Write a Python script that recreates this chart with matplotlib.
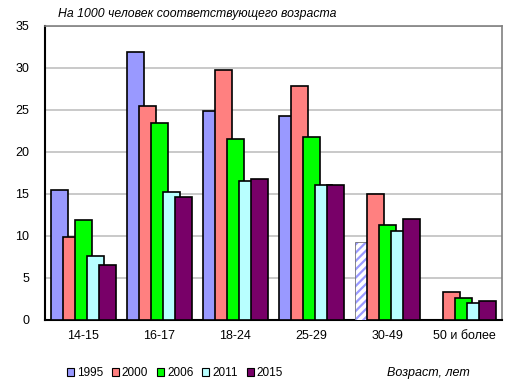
import numpy as np
import matplotlib
matplotlib.use("Agg")
import matplotlib.pyplot as plt
from matplotlib.patches import Patch

plt.rcParams['font.family'] = ['Liberation Sans', 'DejaVu Sans']
plt.rcParams['hatch.linewidth'] = 1.6

categories = ["14-15", "16-17", "18-24", "25-29", "30-49", "50 и более"]
years = ["1995", "2000", "2006", "2011", "2015"]
colors = ["#9999ff", "#ff8080", "#00ff00", "#b8ffff", "#780068"]

# per 1000 persons of the given age (nan = no bar)
v1995 = [15.5, 31.9, 24.9, 24.3, 9.3, np.nan]
v2000 = [9.9, 25.5, 29.8, 27.9, 15.0, 3.3]
v2006 = [11.9, 23.5, 21.6, 21.8, 11.3, 2.6]
v2011 = [7.6, 15.2, 16.5, 16.1, 10.6, 2.0]
v2015 = [6.5, 14.6, 16.8, 16.1, 12.0, 2.25]
series = [v1995, v2000, v2006, v2011, v2015]

fig = plt.figure(figsize=(5.16, 3.91), dpi=100)
ax = fig.add_axes([45 / 516, 1 - 320 / 391, 457 / 516, 294 / 391])

x = np.arange(len(categories))
step = 0.1575
width = 0.223

containers = []
for i, (vals, col) in enumerate(zip(series, colors)):
    b = ax.bar(x + (i - 2) * step, vals, width, color=col, edgecolor="black",
               linewidth=1.2, zorder=3 + i)
    containers.append(b)

# 1995, 30-49: estimated value, drawn hatched
p = containers[0].patches[4]
p.set_facecolor("white")
p.set_edgecolor("#9999ff")
p.set_hatch("////")
p.set_linewidth(0)
ax.bar(x[4] - 2 * step, v1995[4], width, fill=False, edgecolor="#777777",
       linewidth=0.6, zorder=3)

ax.set_xlim(-0.5, len(categories) - 0.5)
ax.set_ylim(0, 35)
ax.set_yticks(range(0, 36, 5))
ax.set_xticks(x)
ax.set_xticklabels(categories, fontsize=9)
ax.tick_params(axis="y", labelsize=9, length=0, pad=11.5)
ax.tick_params(axis="x", length=0, pad=7)
ax.yaxis.grid(True, color="#c0c0c0", linewidth=1.2)
ax.set_axisbelow(True)

for s in ["top", "right"]:
    ax.spines[s].set_color("#808080")
    ax.spines[s].set_linewidth(1.2)
for s in ["left", "bottom"]:
    ax.spines[s].set_color("black")
    ax.spines[s].set_linewidth(1.5)

fig.text(58 / 516, 1 - 14 / 391, "На 1000 человек соответствующего возраста",
         fontsize=8.8, style="italic", va="center", ha="left")
fig.text(387 / 516, 1 - 373 / 391, "Возраст, лет", fontsize=9, style="italic",
         va="center", ha="left")

handles = [Patch(facecolor=c, edgecolor="black", linewidth=0.8) for c in colors]
fig.legend(handles, years, loc="center left", bbox_to_anchor=(62 / 516, 1 - 373 / 391),
           ncol=5, frameon=False, fontsize=8.5, handlelength=0.6, handleheight=0.6,
           handletextpad=0.25, columnspacing=0.75, borderaxespad=0)

fig.savefig("out.png", dpi=100)
